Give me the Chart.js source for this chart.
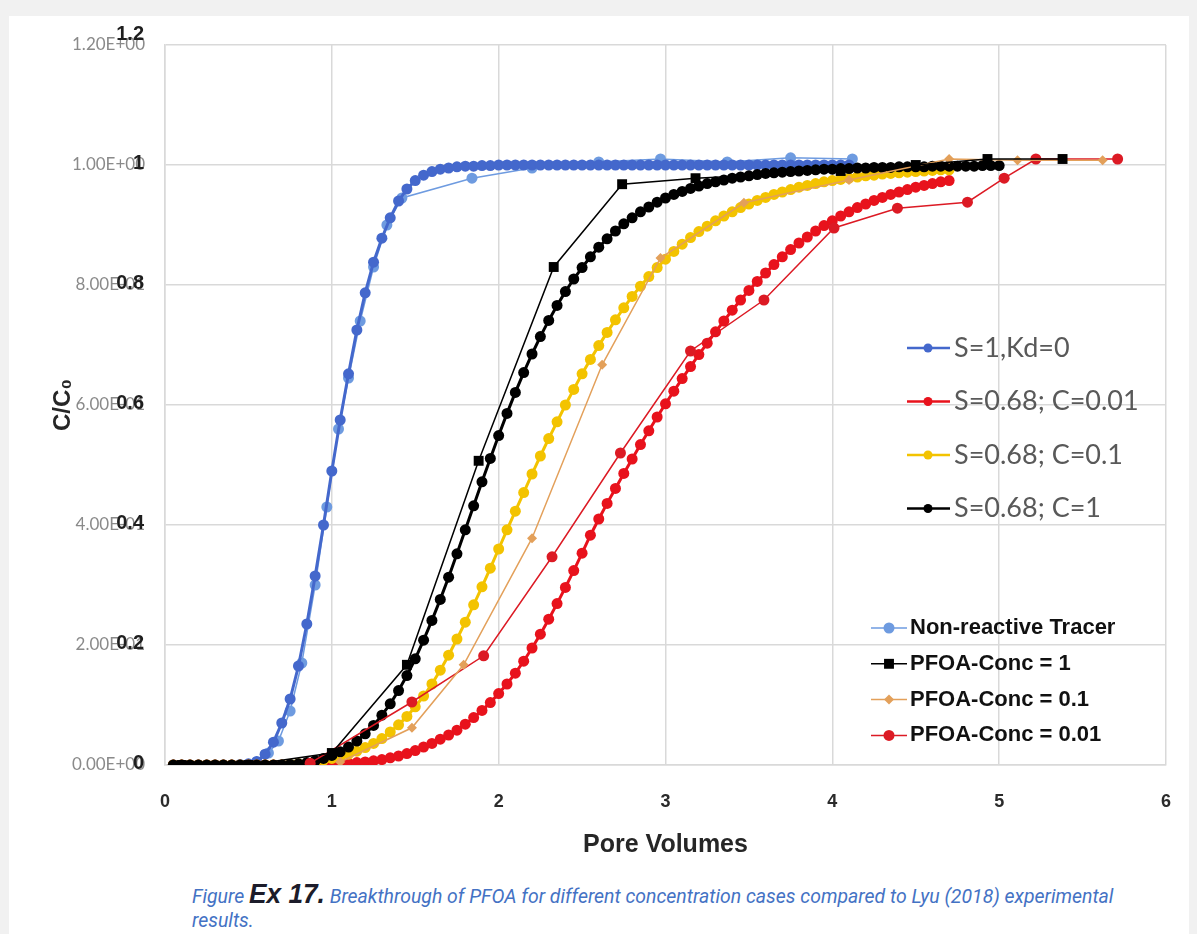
<!DOCTYPE html>
<html>
<head>
<meta charset="utf-8">
<script src="https://cdn.jsdelivr.net/npm/chart.js@4.4.1/dist/chart.umd.min.js"></script>
<style>
html,body{margin:0;padding:0;background:#f1f1f1;}
#card{position:absolute;left:9px;top:16px;width:1180px;height:918px;background:#fff;}
#wrap{position:absolute;left:0;top:0;width:1197px;height:862px;}
#cap{position:absolute;left:192px;top:884px;font-family:Roboto,"Liberation Sans",sans-serif;
  font-style:italic;font-size:20px;color:#4472C4;line-height:24px;white-space:nowrap;transform-origin:0 0;}
#cap b{font-family:"Liberation Sans",Arial,sans-serif;font-size:27px;color:#1c1c2a;line-height:20px;}
</style>
</head>
<body>
<div id="card"></div>
<div id="wrap"><canvas id="c" width="1197" height="862"></canvas></div>
<div id="cap"><span id="l1">Figure <b>Ex 17.</b> Breakthrough of PFOA for different concentration cases compared to Lyu (2018) experimental</span><br>results.</div>
<script>
// pore volume steps of the model runs
const PV = [0.05,0.10,0.15,0.20,0.25,0.30,0.35,0.40,0.45,0.50,0.55,0.60,0.65,0.70,0.75,0.80,0.85,0.90,0.95,1.00,
  1.05,1.10,1.15,1.20,1.25,1.30,1.35,1.40,1.45,1.50,1.55,1.60,1.65,1.70,1.75,1.80,1.85,1.90,1.95,2.00,
  2.05,2.10,2.15,2.20,2.25,2.30,2.35,2.40,2.45,2.50,2.55,2.60,2.65,2.70,2.75,2.80,2.85,2.90,2.95,3.00,
  3.05,3.10,3.15,3.20,3.25,3.30,3.35,3.40,3.45,3.50,3.55,3.60,3.65,3.70,3.75,3.80,3.85,3.90,3.95,4.00,
  4.05,4.10,4.15,4.20,4.25,4.30,4.35,4.40,4.45,4.50,4.55,4.60,4.65,4.70,4.75,4.80,4.85,4.90,4.95,5.00];

// model: S=1, Kd=0
const M_TRACER = [0,0,0,0,0,0,0,0,0,0.002,0.006,0.018,0.038,0.07,0.11,0.165,0.235,0.315,0.4,0.49,
  0.575,0.652,0.725,0.787,0.838,0.878,0.912,0.94,0.96,0.974,0.983,0.989,0.993,0.995,0.997,0.998,0.998,0.999,0.999,1,
  1,1,1,1,1,1,1,1,1,1,1,1,1,1,1,1,1,1,1,1,
  1,1,1,1,1,1,1,1,1,1,1,1,1,1,1,1,1,1,1,1,
  1,1];
// model: S=0.68; C=0.01
const M_C001 = [0,0,0,0,0,0,0,0,0,0,0,0,0,0,0,0,0,0.001,0.001,0.002,
  0.003,0.003,0.004,0.005,0.007,0.009,0.012,0.015,0.019,0.024,0.03,0.036,0.043,0.05,0.058,0.068,0.079,0.091,0.104,0.119,
  0.135,0.153,0.173,0.195,0.218,0.243,0.269,0.296,0.324,0.353,0.383,0.41,0.436,0.461,0.486,0.51,0.534,0.557,0.58,0.602,
  0.623,0.644,0.664,0.684,0.703,0.722,0.74,0.758,0.775,0.791,0.806,0.82,0.834,0.847,0.859,0.87,0.88,0.89,0.899,0.907,
  0.915,0.922,0.929,0.935,0.941,0.946,0.951,0.955,0.959,0.963,0.966,0.969,0.972,0.974];
// model: S=0.68; C=0.1
const M_C01 = [0,0,0,0,0,0,0,0,0,0,0,0,0,0,0.001,0.002,0.003,0.005,0.008,0.011,
  0.014,0.018,0.023,0.029,0.036,0.044,0.055,0.067,0.081,0.097,0.115,0.135,0.158,0.183,0.21,0.238,0.267,0.297,0.328,0.36,
  0.392,0.423,0.454,0.485,0.515,0.544,0.572,0.6,0.626,0.652,0.676,0.699,0.721,0.742,0.762,0.781,0.798,0.814,0.829,0.843,
  0.856,0.868,0.879,0.889,0.898,0.907,0.915,0.922,0.929,0.935,0.941,0.946,0.951,0.955,0.959,0.963,0.966,0.969,0.972,0.974,
  0.976,0.978,0.98,0.982,0.983,0.985,0.986,0.987,0.988,0.989,0.99,0.991,0.992,0.992];
// model: S=0.68; C=1
const M_C1 = [0,0,0,0,0,0,0,0,0,0,0,0,0,0,0.001,0.002,0.004,0.007,0.011,0.016,
  0.022,0.03,0.04,0.052,0.066,0.083,0.102,0.124,0.149,0.177,0.208,0.241,0.276,0.313,0.352,0.392,0.432,0.472,0.511,0.549,
  0.586,0.621,0.654,0.685,0.714,0.741,0.766,0.789,0.81,0.829,0.847,0.863,0.877,0.89,0.902,0.912,0.922,0.93,0.938,0.945,
  0.951,0.956,0.961,0.965,0.969,0.972,0.975,0.978,0.98,0.982,0.984,0.986,0.987,0.988,0.989,0.99,0.991,0.992,0.993,0.993,
  0.994,0.994,0.995,0.995,0.996,0.996,0.996,0.997,0.997,0.997,0.997,0.998,0.998,0.998,0.998,0.998,0.998,0.999,0.999,0.999];

// experimental, Lyu (2018)
const E_TRACER_PV = [0.05,0.2,0.35,0.45,0.55,0.62,0.68,0.75,0.82,0.9,0.97,1.04,1.1,1.17,1.25,1.33,1.42,1.84,2.2,2.6,2.97,3.37,3.75,4.12];
const E_TRACER_C  = [0,0,0,0.001,0.005,0.02,0.04,0.09,0.17,0.3,0.43,0.56,0.645,0.74,0.83,0.9,0.945,0.978,0.995,1.005,1.01,1.005,1.012,1.01];
const E_C1_PV = [0.1,0.5,1.0,1.45,1.88,2.33,2.74,3.18,4.05,4.5,4.93,5.38];
const E_C1_C  = [0,0,0.02,0.167,0.507,0.83,0.968,0.978,0.99,1.0,1.01,1.01];
const E_C01_PV = [1.05,1.48,1.79,2.2,2.62,2.97,3.47,4.1,4.7,5.11,5.62];
const E_C01_C  = [0.005,0.062,0.167,0.378,0.667,0.845,0.937,0.975,1.01,1.008,1.008];
const E_C001_PV = [0.87,1.48,1.91,2.32,2.73,3.15,3.59,4.01,4.39,4.81,5.03,5.22,5.71];
const E_C001_C  = [0.003,0.105,0.182,0.347,0.52,0.69,0.775,0.895,0.928,0.938,0.978,1.01,1.01];

const X_TICKS = [0,1,2,3,4,5,6];
const Y_TICKS = [0,0.2,0.4,0.6,0.8,1.0,1.2];

const pts = (xs, ys) => ys.map((v,i)=>({x:xs[i], y:v}));

function model(label, ys, color, order){
  return {label, data:pts(PV, ys), borderColor:color, backgroundColor:color, borderWidth:3,
    pointRadius:5.5, pointStyle:'circle', pointBorderWidth:0, order, tension:0, legendGroup:'model'};
}
function exper(label, xs, ys, color, style, r, order){
  return {label, data:pts(xs, ys), borderColor:color, backgroundColor:color, borderWidth:1.5,
    pointRadius:r, pointStyle:style, pointBorderWidth:0, order, tension:0, legendGroup:'exp'};
}

const datasets = [
  model('S=1,Kd=0', M_TRACER, '#4468CC', 8),
  model('S=0.68; C=0.01', M_C001, '#E8121C', 7),
  model('S=0.68; C=0.1', M_C01, '#F3C300', 6),
  model('S=0.68; C=1', M_C1, '#000000', 5),
  exper('Non-reactive Tracer', E_TRACER_PV, E_TRACER_C, '#6E9BE0', 'circle', 5.5, 9),
  exper('PFOA-Conc = 1', E_C1_PV, E_C1_C, '#000000', 'rect', 7, 1),
  exper('PFOA-Conc = 0.1', E_C01_PV, E_C01_C, '#E3A05A', 'rectRot', 5, 2),
  exper('PFOA-Conc = 0.01', E_C001_PV, E_C001_C, '#DC1A24', 'circle', 5.5, 3),
];

function sci(v){
  if (Math.abs(v) < 1e-9) return '0.00E+00';
  let e = Math.floor(Math.log10(Math.abs(v)) + 1e-9);
  const m = v / Math.pow(10, e);
  const sign = e < 0 ? '-' : '+';
  e = Math.abs(e);
  return m.toFixed(2) + 'E' + sign + (e < 10 ? '0' + e : e);
}

// bold tick labels drawn over the faded scientific ones
const boldY = {
  id:'boldY',
  afterDraw(chart){
    const y = chart.scales.y, ctx = chart.ctx;
    ctx.save();
    ctx.font = 'bold 20px "Liberation Sans", Arial, sans-serif';
    ctx.fillStyle = '#1e1e1e';
    ctx.textAlign = 'right';
    ctx.textBaseline = 'middle';
    Y_TICKS.forEach(v => {
      const py = y.getPixelForValue(v);
      const lift = v > 1.1 ? 11 : 2;
      ctx.fillText(String(Math.round(v*10)/10), 144, py - lift);
    });
    ctx.restore();
  }
};

// two legends: model runs (right, middle) and experiments (bottom right)
function drawLegend(chart, group, o){
  const ctx = chart.ctx;
  const items = chart.data.datasets.filter(d => d.legendGroup === group);
  ctx.save();
  ctx.font = o.font;
  ctx.textBaseline = 'middle';
  ctx.textAlign = 'left';
  items.forEach((d, i) => {
    const y = o.y0 + i * o.dy;
    ctx.strokeStyle = d.borderColor;
    ctx.lineWidth = o.lw;
    ctx.beginPath(); ctx.moveTo(o.x0, y); ctx.lineTo(o.x1, y); ctx.stroke();
    ctx.fillStyle = d.backgroundColor;
    Chart.helpers.drawPoint(ctx, {pointStyle:d.pointStyle, radius:o.r || d.pointRadius, borderWidth:0}, o.mx, y);
    ctx.fillStyle = o.color;
    ctx.fillText(d.label, o.tx, y);
  });
  ctx.restore();
}
const legends = {
  id:'legends',
  afterDraw(chart){
    drawLegend(chart, 'model', {x0:907, x1:950, mx:928, tx:954, y0:348, dy:53.5, r:4.5, lw:2.5,
      font:'27px Lato, "Open Sans", sans-serif', color:'#595959'});
    drawLegend(chart, 'exp', {x0:871, x1:907, mx:889, tx:910, y0:628, dy:35.8, lw:1.5,
      font:'bold 22px "Liberation Sans", Arial, sans-serif', color:'#111111'});
  }
};

new Chart(document.getElementById('c'), {
  type:'line',
  data:{datasets},
  plugins:[boldY, legends],
  options:{
    responsive:false,
    animation:false,
    devicePixelRatio:1,
    layout:{padding:{top:45, right:27, left:0, bottom:0}},
    plugins:{legend:{display:false}, tooltip:{enabled:false}},
    scales:{
      x:{
        type:'linear', min:0, max:6,
        afterFit(s){ s.height = 97; },
        afterBuildTicks(s){ s.ticks = X_TICKS.map(v => ({value:v})); },
        grid:{color:'#d9d9d9', lineWidth:1.5, drawTicks:false},
        border:{color:'#d9d9d9', width:1.5},
        ticks:{color:'#2b2b2b', padding:26, font:{family:'"Liberation Sans", Arial, sans-serif', size:18, weight:'bold'}},
        title:{display:true, text:'Pore Volumes', color:'#262626', padding:{bottom:2, top:0},
          font:{family:'"Liberation Sans", Arial, sans-serif', size:25, weight:'bold'}}
      },
      y:{
        type:'linear', min:0, max:1.2,
        afterFit(s){ s.width = 165; },
        afterBuildTicks(s){ s.ticks = Y_TICKS.map(v => ({value:v})); },
        grid:{color:'#d9d9d9', lineWidth:1.5, drawTicks:false},
        border:{color:'#d9d9d9', width:1.5},
        ticks:{color:'#8a8a8a', padding:20, callback:v => sci(v),
          font:{family:'Lato, "Open Sans", sans-serif', size:17}},
        title:{display:true, text:'C/C\u2080', color:'#262626', padding:{top:49, bottom:0},
          font:{family:'"Liberation Sans", Arial, sans-serif', size:24, weight:'bold'}}
      }
    }
  }
});

// squeeze the caption to the narrow width of the original figure text
const cap = document.getElementById('cap');
const w1 = document.getElementById('l1').getBoundingClientRect().width;
cap.style.transform = 'scaleX(' + (921 / w1).toFixed(3) + ')';
</script>
</body>
</html>
